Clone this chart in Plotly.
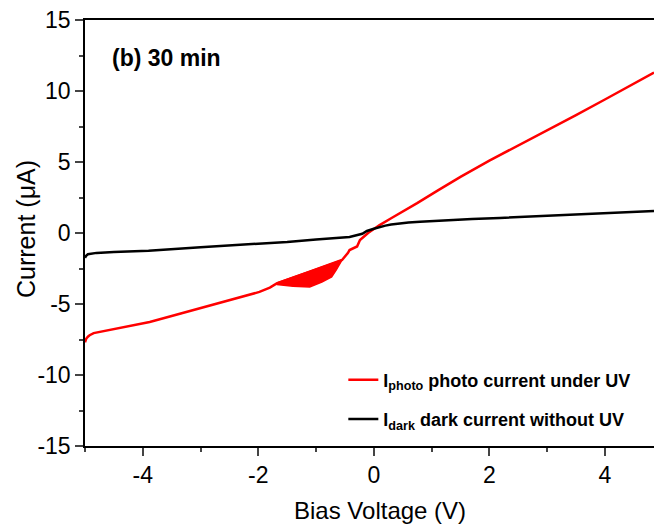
import plotly.graph_objects as go

# Photo current (red) under UV
photo_v = [-5.0, -4.98, -4.95, -4.92, -4.85, -4.75, -4.5, -4.2, -3.88, -3.5, -3.0, -2.5, -1.98, -1.8, -1.68,
           -1.11, -0.55, -0.45, -0.42, -0.29, -0.24, -0.1, 0.0, 0.1, 0.3, 0.5, 0.75, 1.11, 1.5, 2.0, 2.5,
           3.0, 3.5, 4.0, 4.5, 4.85]
photo_i = [-7.7, -7.45, -7.3, -7.2, -7.05, -6.97, -6.8, -6.55, -6.27, -5.85, -5.3, -4.75, -4.15, -3.85, -3.55,
           -2.72, -1.9, -1.41, -1.2, -0.95, -0.5, 0.0, 0.3, 0.56, 1.04, 1.5, 2.1, 3.0, 3.95, 5.1, 6.15,
           7.2, 8.3, 9.4, 10.5, 11.3]

# Noisy band of the photo current (outline of the filled region)
band_v = [-1.68, -1.40, -1.11, -0.80, -0.55, -0.65, -0.73, -0.90, -1.11, -1.40, -1.68]
band_i = [-3.52, -3.13, -2.72, -2.28, -1.90, -2.60, -3.10, -3.45, -3.80, -3.75, -3.62]

# Dark current (black) without UV
dark_v = [-5.0, -4.98, -4.95, -4.9, -4.8, -4.5, -3.9, -3.0, -2.0, -1.5, -1.0, -0.6, -0.42, -0.2, -0.12,
          0.0, 0.1, 0.2, 0.3, 0.45, 0.6, 0.8, 1.0, 1.32, 1.7, 2.18, 3.0, 4.0, 4.85]
dark_i = [-1.75, -1.6, -1.5, -1.45, -1.4, -1.33, -1.25, -1.0, -0.78, -0.63, -0.45, -0.33, -0.28, -0.05, 0.14,
          0.3, 0.42, 0.52, 0.6, 0.68, 0.74, 0.8, 0.85, 0.92, 0.99, 1.06, 1.2, 1.38, 1.55]

x_ticks = [-4, -2, 0, 2, 4]
x_labels = ["-4", "-2", "0", "2", "4"]
y_ticks = [-15, -10, -5, 0, 5, 10, 15]
y_labels = ["-15", "-10", "-5", "0", "5", "10", "15"]

fig = go.Figure()
fig.add_trace(go.Scatter(x=band_v, y=band_i, mode="lines", fill="toself", fillcolor="#ff0000",
                         line=dict(color="#ff0000", width=1.5), showlegend=False, hoverinfo="skip"))
fig.add_trace(go.Scatter(x=photo_v, y=photo_i, mode="lines",
                         line=dict(color="#ff0000", width=2.5),
                         name="<b>I<sub>photo</sub> photo current under UV</b>",
                         legendgroup="a"))
fig.add_trace(go.Scatter(x=dark_v, y=dark_i, mode="lines",
                         line=dict(color="#000000", width=2.5),
                         name="<b>I<sub>dark</sub> dark current without UV</b>",
                         legendgroup="b"))

axis_font = dict(family="Liberation Sans, Arial, sans-serif", size=23, color="black")

fig.update_layout(
    width=654, height=529,
    margin=dict(l=85, r=0, t=20, b=83),
    paper_bgcolor="white", plot_bgcolor="white",
    font=dict(family="Liberation Sans, Arial, sans-serif", color="black"),
    xaxis=dict(range=[-5, 4.85], tickvals=x_ticks, ticktext=x_labels, ticks="outside", ticklen=8, tickwidth=1.5,
               showline=True, linecolor="black", linewidth=1.5, mirror=True, showgrid=False, zeroline=False,
               tickfont=axis_font,
               minor=dict(dtick=1, tick0=-5, ticks="outside", ticklen=4, tickwidth=1.5, showgrid=False)),
    yaxis=dict(range=[-15, 15], tickvals=y_ticks, ticktext=y_labels, ticks="outside", ticklen=8, tickwidth=1.5,
               showline=True, linecolor="black", linewidth=1.5, mirror=False, showgrid=False, zeroline=False,
               tickfont=axis_font,
               minor=dict(dtick=2.5, tick0=0, ticks="outside", ticklen=4, tickwidth=1.5, showgrid=False)),
    legend=dict(x=0.454, y=0.02, xanchor="left", yanchor="bottom", bgcolor="rgba(0,0,0,0)",
                borderwidth=0, font=dict(size=18, color="black"), tracegroupgap=13,
                traceorder="grouped"),
    showlegend=True,
)

# Axis titles
fig.add_annotation(x=0.518, y=-0.152, xref="paper", yref="paper", xanchor="center", yanchor="middle",
                   text="Bias Voltage (V)", showarrow=False, font=dict(size=24, color="black"))
fig.add_annotation(x=-0.105, y=0.51, xref="paper", yref="paper", xanchor="center", yanchor="middle",
                   text="Current (\u03bcA)", textangle=-90, showarrow=False, font=dict(size=25, color="black"))

fig.add_annotation(x=0.044, y=0.911, xref="paper", yref="paper", xanchor="left", yanchor="middle",
                   text="<b>(b) 30 min</b>", showarrow=False, font=dict(size=23, color="black"))

fig.write_html("out.html")
